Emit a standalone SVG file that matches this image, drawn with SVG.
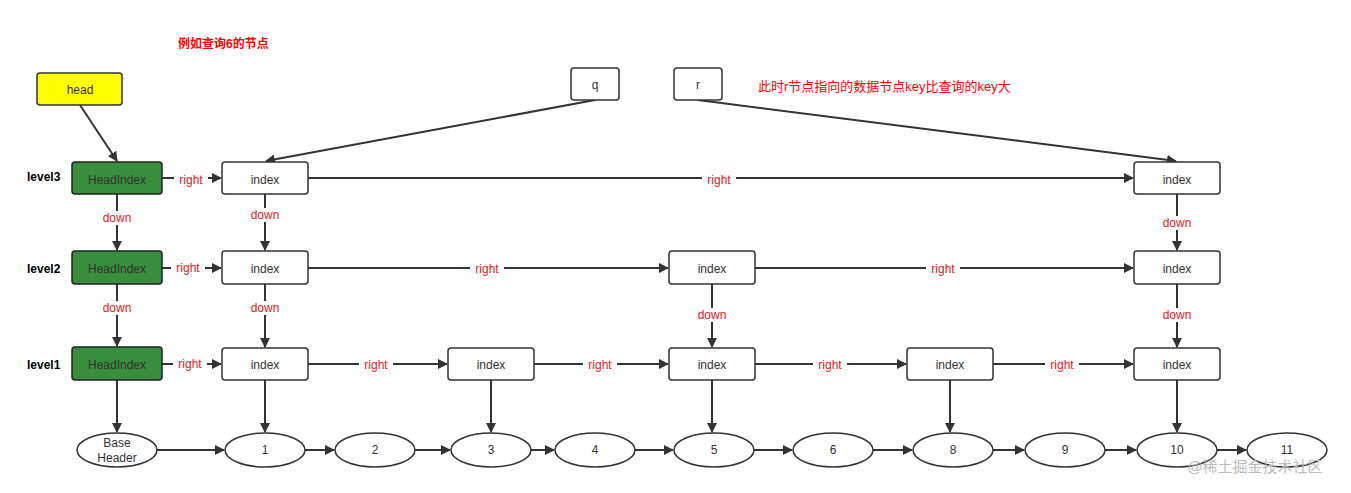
<svg xmlns="http://www.w3.org/2000/svg" width="1351" height="493" viewBox="0 0 1351 493">
<defs>
<marker id="a" viewBox="0 0 10 10" refX="9" refY="5" markerWidth="10" markerHeight="10" markerUnits="userSpaceOnUse" orient="auto"><path d="M0,0 L10,5 L0,10 z" fill="#333"/></marker>
<style>
text{font-family:"Liberation Sans","Noto Sans CJK SC",sans-serif;font-size:12px;text-anchor:middle;dominant-baseline:central}
.box{fill:#fff;stroke:#333;stroke-width:1.5}
.hi{fill:#388e3c;stroke:#222;stroke-width:1.5}
.t{fill:#333}
.lbl{fill:#e0201c;}
.bg{fill:#fff}
.lv{font-weight:bold;fill:#000;text-anchor:start}
line{stroke:#333;stroke-width:2;marker-end:url(#a)}
</style>
</defs>
<rect width="1351" height="493" fill="#fff"/>
<text x="178" y="44" style="text-anchor:start;font-weight:bold;fill:#f00">例如查询6的节点</text>
<text x="758" y="86" style="text-anchor:start;fill:#f00;font-size:13px">此时r节点指向的数据节点key比查询的key大</text>
<g id="connectors">
<line x1="80" y1="105" x2="117" y2="161"/>
<line x1="595" y1="100" x2="266" y2="161"/>
<line x1="698" y1="100" x2="1176" y2="161"/>
<line x1="162" y1="178" x2="221" y2="178"/>
<line x1="308" y1="178" x2="1133" y2="178"/>
<line x1="162" y1="268" x2="221" y2="268"/>
<line x1="308" y1="268" x2="668" y2="268"/>
<line x1="755" y1="268" x2="1133" y2="268"/>
<line x1="162" y1="364" x2="221" y2="364"/>
<line x1="308" y1="364" x2="447" y2="364"/>
<line x1="534" y1="364" x2="668" y2="364"/>
<line x1="755" y1="364" x2="906" y2="364"/>
<line x1="993" y1="364" x2="1133" y2="364"/>
<line x1="117" y1="194" x2="117" y2="250"/>
<line x1="117" y1="284" x2="117" y2="346"/>
<line x1="265" y1="194" x2="265" y2="250"/>
<line x1="265" y1="284" x2="265" y2="347"/>
<line x1="712" y1="284" x2="712" y2="347"/>
<line x1="1177" y1="194" x2="1177" y2="250"/>
<line x1="1177" y1="284" x2="1177" y2="347"/>
<line x1="117" y1="380" x2="117" y2="432"/>
<line x1="265" y1="380" x2="265" y2="432"/>
<line x1="491" y1="380" x2="491" y2="432"/>
<line x1="712" y1="380" x2="712" y2="432"/>
<line x1="950" y1="380" x2="950" y2="432"/>
<line x1="1177" y1="380" x2="1177" y2="432"/>
<line x1="157" y1="450" x2="224" y2="450"/>
<line x1="305" y1="450" x2="334" y2="450"/>
<line x1="415" y1="450" x2="450" y2="450"/>
<line x1="531" y1="450" x2="554" y2="450"/>
<line x1="635" y1="450" x2="673" y2="450"/>
<line x1="754" y1="450" x2="792" y2="450"/>
<line x1="873" y1="450" x2="912" y2="450"/>
<line x1="993" y1="450" x2="1024" y2="450"/>
<line x1="1105" y1="450" x2="1136" y2="450"/>
<line x1="1217" y1="450" x2="1246" y2="450"/>
<g class="lbl">
<rect class="bg" x="174" y="172" width="34" height="14"/><text class="lbl" x="191" y="180">right</text>
<rect class="bg" x="702" y="172" width="34" height="14"/><text class="lbl" x="719" y="180">right</text>
<rect class="bg" x="171" y="261" width="34" height="14"/><text class="lbl" x="188" y="268">right</text>
<rect class="bg" x="470" y="262" width="34" height="14"/><text class="lbl" x="487" y="269">right</text>
<rect class="bg" x="926" y="262" width="34" height="14"/><text class="lbl" x="943" y="269">right</text>
<rect class="bg" x="173" y="357" width="34" height="14"/><text class="lbl" x="190" y="364">right</text>
<rect class="bg" x="359" y="358" width="34" height="14"/><text class="lbl" x="376" y="365">right</text>
<rect class="bg" x="583" y="358" width="34" height="14"/><text class="lbl" x="600" y="365">right</text>
<rect class="bg" x="813" y="358" width="34" height="14"/><text class="lbl" x="830" y="365">right</text>
<rect class="bg" x="1045" y="358" width="34" height="14"/><text class="lbl" x="1062" y="365">right</text>
<rect class="bg" x="98" y="211" width="38" height="14"/><text class="lbl" x="117" y="218">down</text>
<rect class="bg" x="98" y="301" width="38" height="14"/><text class="lbl" x="117" y="308">down</text>
<rect class="bg" x="246" y="208" width="38" height="14"/><text class="lbl" x="265" y="215">down</text>
<rect class="bg" x="246" y="301" width="38" height="14"/><text class="lbl" x="265" y="308">down</text>
<rect class="bg" x="693" y="308" width="38" height="14"/><text class="lbl" x="712" y="315">down</text>
<rect class="bg" x="1158" y="216" width="38" height="14"/><text class="lbl" x="1177" y="223">down</text>
<rect class="bg" x="1158" y="308" width="38" height="14"/><text class="lbl" x="1177" y="315">down</text>
</g>
</g>
<text class="lv" x="27" y="177">level3</text>
<text class="lv" x="27" y="269">level2</text>
<text class="lv" x="27" y="365">level1</text>
<g id="head"><rect x="37" y="73" width="85" height="32" rx="3" fill="#ffff00" stroke="#333" stroke-width="1.5"/><text class="t" x="80" y="90">head</text></g>
<g id="q"><rect class="box" x="571" y="68" width="48" height="32" rx="3"/><text class="t" x="595" y="85">q</text></g>
<g id="r"><rect class="box" x="674" y="68" width="48" height="32" rx="3"/><text class="t" x="698" y="85">r</text></g>
<g id="hi3"><rect class="hi" x="72" y="162" width="90" height="32" rx="3"/><text class="t" x="117" y="180">HeadIndex</text></g>
<g id="hi2"><rect class="hi" x="72" y="251" width="90" height="33" rx="3"/><text class="t" x="117" y="269">HeadIndex</text></g>
<g id="hi1"><rect class="hi" x="72" y="347" width="90" height="33" rx="3"/><text class="t" x="117" y="365">HeadIndex</text></g>
<g id="i31"><rect class="box" x="222" y="162" width="86" height="32" rx="3"/><text class="t" x="265" y="180">index</text></g>
<g id="i35"><rect class="box" x="1134" y="162" width="86" height="32" rx="3"/><text class="t" x="1177" y="180">index</text></g>
<g id="i21"><rect class="box" x="222" y="251" width="86" height="33" rx="3"/><text class="t" x="265" y="269">index</text></g>
<g id="i23"><rect class="box" x="669" y="251" width="86" height="33" rx="3"/><text class="t" x="712" y="269">index</text></g>
<g id="i25"><rect class="box" x="1134" y="251" width="86" height="33" rx="3"/><text class="t" x="1177" y="269">index</text></g>
<g id="i11"><rect class="box" x="222" y="348" width="86" height="32" rx="3"/><text class="t" x="265" y="365">index</text></g>
<g id="i12"><rect class="box" x="448" y="348" width="86" height="32" rx="3"/><text class="t" x="491" y="365">index</text></g>
<g id="i13"><rect class="box" x="669" y="348" width="86" height="32" rx="3"/><text class="t" x="712" y="365">index</text></g>
<g id="i14"><rect class="box" x="907" y="348" width="86" height="32" rx="3"/><text class="t" x="950" y="365">index</text></g>
<g id="i15"><rect class="box" x="1134" y="348" width="86" height="32" rx="3"/><text class="t" x="1177" y="365">index</text></g>
<g id="bh"><ellipse class="box" cx="117" cy="450" rx="40" ry="17"/><text class="t" x="117" y="443">Base</text><text class="t" x="117" y="458">Header</text></g>
<g id="n1"><ellipse class="box" cx="265" cy="450" rx="40" ry="17"/><text class="t" x="265" y="450">1</text></g>
<g id="n2"><ellipse class="box" cx="375" cy="450" rx="40" ry="17"/><text class="t" x="375" y="450">2</text></g>
<g id="n3"><ellipse class="box" cx="491" cy="450" rx="40" ry="17"/><text class="t" x="491" y="450">3</text></g>
<g id="n4"><ellipse class="box" cx="595" cy="450" rx="40" ry="17"/><text class="t" x="595" y="450">4</text></g>
<g id="n5"><ellipse class="box" cx="714" cy="450" rx="40" ry="17"/><text class="t" x="714" y="450">5</text></g>
<g id="n6"><ellipse class="box" cx="833" cy="450" rx="40" ry="17"/><text class="t" x="833" y="450">6</text></g>
<g id="n8"><ellipse class="box" cx="953" cy="450" rx="40" ry="17"/><text class="t" x="953" y="450">8</text></g>
<g id="n9"><ellipse class="box" cx="1065" cy="450" rx="40" ry="17"/><text class="t" x="1065" y="450">9</text></g>
<g id="n10"><ellipse class="box" cx="1177" cy="450" rx="40" ry="17"/><text class="t" x="1177" y="450">10</text></g>
<g id="n11"><ellipse class="box" cx="1287" cy="450" rx="40" ry="17"/><text class="t" x="1287" y="450">11</text></g>
<text x="1255" y="466" style="fill:#bbb;font-size:15px">@稀土掘金技术社区</text>
</svg>
